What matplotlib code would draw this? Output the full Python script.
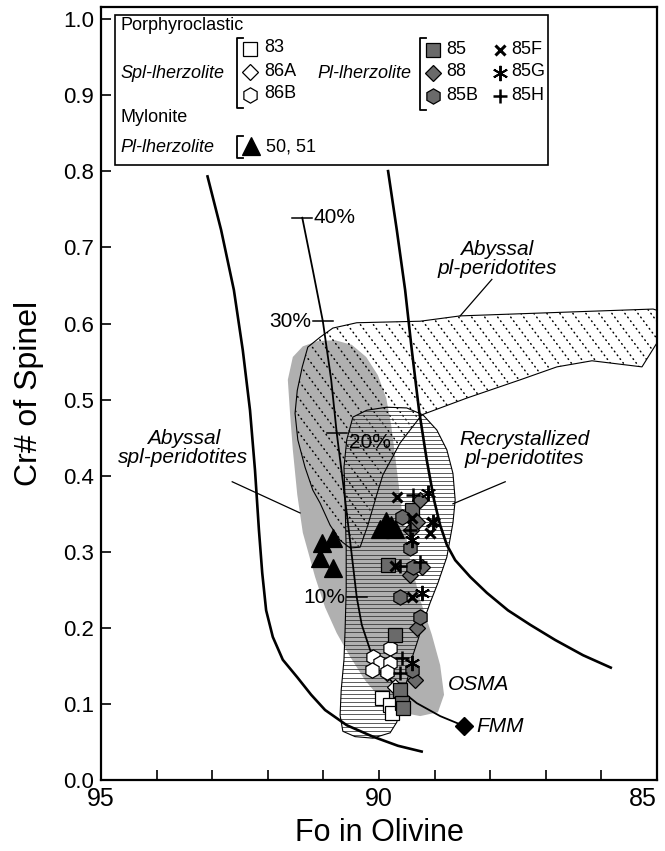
import numpy as np
import matplotlib
matplotlib.use("Agg")
import matplotlib.pyplot as plt
from matplotlib.patches import Polygon, Rectangle
from matplotlib.lines import Line2D
from matplotlib.collections import LineCollection

plt.rcParams['font.family'] = ['Liberation Sans', 'DejaVu Sans']

# ---------------- data: Fo in olivine / Cr# of spinel ----------------
# Porphyroclastic spl-lherzolite
fo_83 = [89.95, 89.80, 89.77]
cr_83 = [0.108, 0.099, 0.088]
fo_86a = [89.72, 89.85]
cr_86a = [0.122, 0.140]
fo_86b = [90.11, 89.80, 89.98, 89.80, 90.13, 89.86]
cr_86b = [0.162, 0.173, 0.154, 0.154, 0.145, 0.142]
# Porphyroclastic pl-lherzolite
fo_85 = [89.84, 89.71, 89.62, 89.59, 89.57, 89.41]
cr_85 = [0.283, 0.191, 0.118, 0.101, 0.095, 0.355]
fo_88 = [89.26, 89.32, 89.23, 89.44, 89.32, 89.35, 89.42]
cr_88 = [0.368, 0.339, 0.280, 0.269, 0.200, 0.131, 0.329]
fo_85b = [89.59, 89.44, 89.39, 89.62, 89.26, 89.41]
cr_85b = [0.346, 0.305, 0.280, 0.240, 0.214, 0.145]
fo_85f = [89.68, 89.41, 89.08, 89.71, 89.41, 89.05]
cr_85f = [0.372, 0.344, 0.325, 0.281, 0.240, 0.339]
fo_85g = [89.12, 89.41, 89.23, 89.41, 89.03]
cr_85g = [0.377, 0.315, 0.246, 0.154, 0.339]
fo_85h = [89.39, 89.44, 89.26, 89.62, 89.59, 89.62]
cr_85h = [0.375, 0.329, 0.286, 0.281, 0.160, 0.141]
# Mylonite pl-lherzolite
fo_50 = [91.03, 90.83, 91.06, 90.83, 89.99, 89.88, 89.78, 89.72]
cr_50 = [0.311, 0.318, 0.292, 0.279, 0.330, 0.340, 0.335, 0.330]

# FMM
fo_fmm, cr_fmm = 88.47, 0.071

# curves
fo_left = [93.09, 92.84, 92.61, 92.45, 92.32, 92.23, 92.16, 92.10, 92.03, 91.91, 91.73,
           91.47, 91.22, 90.97, 90.58, 90.11, 89.66, 89.21]
cr_left = [0.795, 0.723, 0.644, 0.565, 0.486, 0.407, 0.329, 0.272, 0.223, 0.188, 0.158,
           0.135, 0.112, 0.092, 0.072, 0.057, 0.045, 0.037]
fo_melt = [91.38, 91.19, 91.01, 90.86, 90.76, 90.63, 90.50, 90.40, 90.31, 90.16, 89.96,
           89.68, 89.32, 88.90, 88.47]
cr_melt = [0.739, 0.670, 0.603, 0.526, 0.456, 0.381, 0.302, 0.240, 0.204, 0.171, 0.145,
           0.122, 0.101, 0.084, 0.071]
fo_right = [89.84, 89.68, 89.53, 89.41, 89.28, 89.14, 89.01, 88.90, 88.78, 88.63, 88.36,
            88.06, 87.68, 87.28, 86.83, 86.33, 85.81]
cr_right = [0.802, 0.723, 0.644, 0.565, 0.486, 0.420, 0.368, 0.335, 0.309, 0.289, 0.267,
            0.246, 0.223, 0.204, 0.184, 0.164, 0.147]

# melting degree ticks
pct_labels = ['40%', '30%', '20%', '10%']
pct_fo = [91.38, 91.01, 90.76, 90.40]
pct_cr = [0.739, 0.603, 0.456, 0.240]

# fields
osma_fo = [91.55, 91.37, 91.10, 90.79, 90.49, 90.23, 90.02, 89.87, 89.78, 89.69, 89.59, 89.44,
           89.26, 89.05, 88.90, 88.83, 88.94, 89.26, 89.62, 89.95, 90.25, 90.52, 90.76, 90.97,
           91.15, 91.37, 91.47, 91.55, 91.60, 91.64]
osma_cr = [0.556, 0.570, 0.577, 0.578, 0.572, 0.556, 0.532, 0.502, 0.466, 0.414, 0.355, 0.289,
           0.237, 0.191, 0.151, 0.112, 0.089, 0.084, 0.089, 0.105, 0.131, 0.162, 0.193, 0.227,
           0.267, 0.325, 0.375, 0.434, 0.482, 0.526]
abpl_fo = [91.28, 91.06, 90.83, 90.40, 89.26, 88.54, 85.07, 84.86, 84.86, 85.27, 86.17, 86.80,
           87.46, 88.42, 89.23, 89.62, 89.93, 90.04, 90.20, 90.34, 90.52, 90.70, 90.88, 91.06,
           91.19, 91.33, 91.46, 91.51, 91.47, 91.38]
abpl_cr = [0.569, 0.582, 0.594, 0.601, 0.603, 0.610, 0.619, 0.614, 0.591, 0.543, 0.551, 0.543,
           0.526, 0.502, 0.480, 0.443, 0.401, 0.375, 0.335, 0.306, 0.305, 0.315, 0.335, 0.364,
           0.381, 0.411, 0.447, 0.482, 0.512, 0.543]
recr_fo = [90.47, 90.22, 89.86, 89.50, 89.21, 88.96, 88.78, 88.67, 88.63, 88.67, 88.78, 88.94,
           89.08, 89.21, 89.30, 89.39, 89.48, 89.59, 89.68, 89.80, 90.11, 90.43, 90.65, 90.70,
           90.68, 90.63, 90.61, 90.59, 90.59, 90.61, 90.63, 90.58]
recr_cr = [0.477, 0.486, 0.490, 0.489, 0.480, 0.460, 0.434, 0.403, 0.368, 0.338, 0.293, 0.259,
           0.233, 0.206, 0.184, 0.164, 0.135, 0.105, 0.076, 0.062, 0.055, 0.057, 0.064, 0.085,
           0.118, 0.158, 0.197, 0.250, 0.302, 0.368, 0.411, 0.447]

GRAY = '#6a6a6a'
styles = {
    '83':  dict(marker='s', ms=10, mfc='white', mec='k', mew=0.9),
    '86A': dict(marker='D', ms=8.5, mfc='white', mec='k', mew=0.9),
    '86B': dict(marker='h', ms=11, mfc='white', mec='k', mew=0.9),
    '85':  dict(marker='s', ms=10, mfc=GRAY, mec='k', mew=0.9),
    '88':  dict(marker='D', ms=8.5, mfc=GRAY, mec='k', mew=0.9),
    '85B': dict(marker='h', ms=11, mfc=GRAY, mec='k', mew=0.9),
    '85F': dict(marker='x', ms=7.5, mfc='k', mec='k', mew=2.2),
    '85G': dict(marker=(6, 2, 0), ms=11, mfc='k', mec='k', mew=1.4),
    '85H': dict(marker='+', ms=10, mfc='k', mec='k', mew=1.8),
    '50, 51': dict(marker='^', ms=13, mfc='k', mec='k', mew=0.9),
}

FW, FH = 665, 851
fig = plt.figure(figsize=(FW / 100, FH / 100), dpi=100)
ax = fig.add_axes([101 / FW, 71 / FH, 556 / FW, 773 / FH])
ax.set_xlim(95, 85)
ax.set_ylim(0, 1.016)

# ---- fields ----
osma = Polygon(np.column_stack([osma_fo, osma_cr]), closed=True, fc='#b0b0b0', ec='none', zorder=1)
ax.add_patch(osma)

abpl = Polygon(np.column_stack([abpl_fo, abpl_cr]), closed=True, fc='none', ec='k', lw=0.8, zorder=3)
ax.add_patch(abpl)
recr = Polygon(np.column_stack([recr_fo, recr_cr]), closed=True, fc='none', ec='k', lw=0.8, zorder=3)
ax.add_patch(recr)

# dotted diagonal pattern inside abyssal pl-peridotite field
W, H = 556.0, 773.0
ang = np.deg2rad(53)
segs = []
for x0 in np.arange(-H, W + 20, 13):
    x1 = x0 + 2 * H * np.cos(ang)
    y1 = H - 2 * H * np.sin(ang)
    segs.append([(x0 / W, 1.0), (x1 / W, y1 / H)])
dots = LineCollection(segs, transform=ax.transAxes, colors='k', linewidths=1.1,
                      linestyles=[(0, (0.5, 2.6))], capstyle='round', zorder=2)
ax.add_collection(dots)
dots.set_clip_path(abpl)

# horizontal lines inside recrystallized field
hsegs = [[(0, y / H), (1, y / H)] for y in np.arange(0, H, 4.1)]
hl = LineCollection(hsegs, transform=ax.transAxes, colors='#303030', linewidths=0.55, zorder=2)
ax.add_collection(hl)
hl.set_clip_path(recr)

# ---- curves ----
ax.plot(fo_left, cr_left, color='k', lw=1.9, zorder=4, solid_capstyle='butt', solid_joinstyle='round')
ax.plot(fo_right, cr_right, color='k', lw=1.9, zorder=4, solid_capstyle='butt', solid_joinstyle='round')
ax.plot(fo_melt, cr_melt, color='k', lw=1.3, zorder=4, solid_joinstyle='round')
dfo = 0.18
for lab, f, c in zip(pct_labels, pct_fo, pct_cr):
    ax.plot([f + dfo, f - dfo], [c, c], color='k', lw=1.1, zorder=4)
ax.text(pct_fo[0] - 0.2, pct_cr[0], pct_labels[0], ha='left', va='center', fontsize=15, zorder=6)
ax.text(pct_fo[1] + 0.2, pct_cr[1], pct_labels[1], ha='right', va='center', fontsize=15, zorder=6)
ax.text(pct_fo[2] - 0.22, pct_cr[2] - 0.013, pct_labels[2], ha='left', va='center', fontsize=15, zorder=6)
ax.text(pct_fo[3] + 0.2, pct_cr[3], pct_labels[3], ha='right', va='center', fontsize=15, zorder=6)

# ---- samples ----
series = [('83', fo_83, cr_83), ('86A', fo_86a, cr_86a), ('86B', fo_86b, cr_86b),
          ('50, 51', fo_50, cr_50), ('85', fo_85, cr_85), ('88', fo_88, cr_88),
          ('85B', fo_85b, cr_85b), ('85F', fo_85f, cr_85f), ('85G', fo_85g, cr_85g),
          ('85H', fo_85h, cr_85h)]
for name, f, c in series:
    ax.plot(f, c, ls='none', zorder=5, **styles[name])

ax.plot([fo_fmm], [cr_fmm], ls='none', marker='D', ms=9, mfc='k', mec='k', zorder=5)

# ---- annotations ----
ax.text(88.24, 0.070, 'FMM', style='italic', fontsize=15, ha='left', va='center', zorder=6)
ax.text(88.76, 0.125, 'OSMA', style='italic', fontsize=15, ha='left', va='center', zorder=6)
ax.text(87.88, 0.685, 'Abyssal\npl-peridotites', style='italic', fontsize=15,
        ha='center', va='center', linespacing=1.0, zorder=6)
ax.plot([87.97, 88.54], [0.658, 0.610], color='k', lw=0.9, zorder=4)
ax.text(93.52, 0.436, 'Abyssal\nspl-peridotites', style='italic', fontsize=15,
        ha='center', va='center', linespacing=1.0, zorder=6)
ax.plot([92.64, 91.42], [0.392, 0.351], color='k', lw=0.9, zorder=4)
ax.text(87.39, 0.435, 'Recrystallized\npl-peridotites', style='italic', fontsize=15,
        ha='center', va='center', linespacing=1.0, zorder=6)
ax.plot([88.67, 87.73], [0.363, 0.392], color='k', lw=0.9, zorder=4)

# ---- axes styling ----
for s in ax.spines.values():
    s.set_linewidth(1.6)
ax.set_xticks([95, 90, 85])
ax.set_xticklabels(['95', '90', '85'])
ax.set_xticks(np.arange(86, 95), minor=True)
ax.set_yticks(np.round(np.arange(0, 1.01, 0.1), 1))
ax.set_yticklabels(['%.1f' % v for v in np.arange(0, 1.01, 0.1)])
ax.tick_params(which='both', direction='in', width=1.2, length=7)
ax.tick_params(axis='x', pad=5, labelsize=18)
ax.tick_params(axis='y', pad=5, labelsize=16)
ax.get_xticklabels()[-1].set_horizontalalignment('right')
ax.set_xlabel('Fo in Olivine', fontsize=22)
ax.set_ylabel('Cr# of Spinel', fontsize=23)
ax.xaxis.set_label_coords(0.5, -0.068)
ax.xaxis.label.set_va('center')
ax.yaxis.set_label_coords(-0.13, 0.5)
ax.yaxis.label.set_va('center')

# ---- legend box (figure pixels) ----
def fp(x, y):
    return x / FW, 1 - y / FH

fig.add_artist(Rectangle(fp(115, 165), 433 / FW, 150 / FH, transform=fig.transFigure,
                         fc='white', ec='k', lw=1.2, zorder=10))

def ftext(x, y, s, **kw):
    fig.text(*fp(x, y), s, ha='left', va='center', fontsize=13, zorder=11, **kw)

def fmark(x, y, name):
    fig.add_artist(Line2D([x / FW], [1 - y / FH], transform=fig.transFigure, ls='none',
                          zorder=11, **styles[name]))

def bracket(x, y0, y1):
    xs = [x + 6, x, x, x + 6]
    ys = [y0, y0, y1, y1]
    fig.add_artist(Line2D([v / FW for v in xs], [1 - v / FH for v in ys],
                          transform=fig.transFigure, color='k', lw=1.3, zorder=11))

ftext(120, 26, 'Porphyroclastic')
ftext(120, 73, 'Spl-lherzolite', style='italic')
bracket(237, 38, 108)
for (name, yy) in [('83', 49), ('86A', 72), ('86B', 95)]:
    fmark(250, yy, name)
    ftext(264, yy - 1, name)
ftext(317, 73, 'Pl-lherzolite', style='italic')
bracket(420, 38, 110)
for (name, yy) in [('85', 50), ('88', 73), ('85B', 96)]:
    fmark(433, yy, name)
    ftext(446, yy - 1, name)
for (name, yy) in [('85F', 50), ('85G', 73), ('85H', 96)]:
    fmark(500, yy, name)
    ftext(511, yy - 1, name)
ftext(120, 118, 'Mylonite')
ftext(120, 147, 'Pl-lherzolite', style='italic')
bracket(237, 136, 158)
fmark(251, 146, '50, 51')
ftext(266, 147, '50, 51')

fig.savefig('out.png', dpi=100)
